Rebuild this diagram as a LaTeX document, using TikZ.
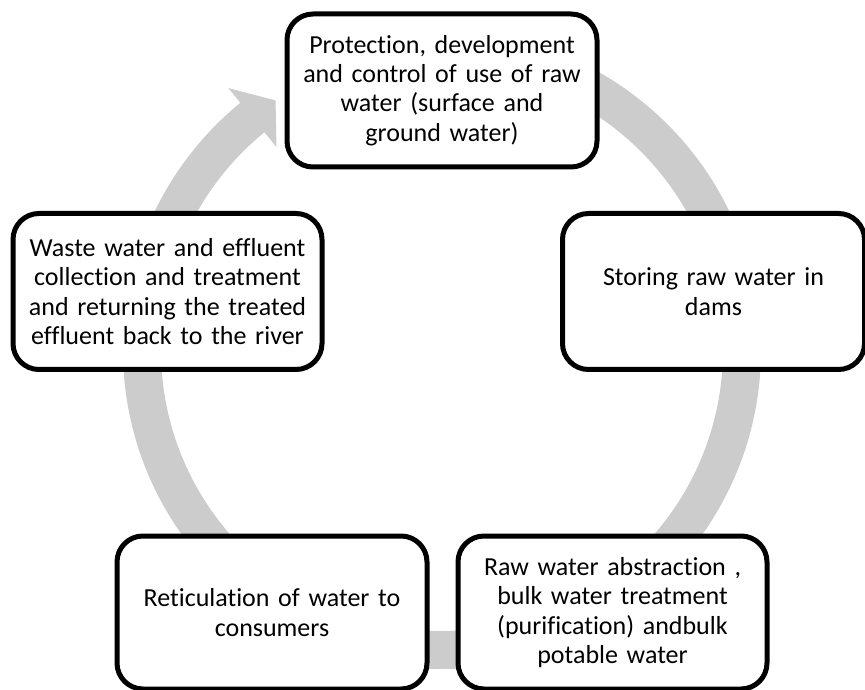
\documentclass[tikz,border=0pt]{standalone}
\usepackage{fontspec}
\setmainfont{Carlito}[Ligatures=NoCommon]
\usetikzlibrary{calc}

\definecolor{ringgray}{RGB}{204,204,204}

\tikzset{
  stagebox/.style={
    draw=black, line width=5pt, rounded corners=26pt, fill=white,
    minimum width=309pt, minimum height=153pt, inner sep=0pt,
    text width=302pt, align=center,
    font=\fontsize{26}{29.4}\selectfont
  }
}

\begin{document}
\begin{tikzpicture}[x=1pt,y=1pt]
  \useasboundingbox (0,0) rectangle (865,689);

  % centre of the circular flow arrow
  \coordinate (c) at (442,339);

  % circular arrow running clockwise, head at the upper left
  \fill[ringgray]
    ($(c)+(90:319pt)$) arc[start angle=90, end angle=-230.8, radius=319pt]
    -- ($(c)+(-230.8:338pt)$)
    -- ($(c)+(-236.3:300pt)$)
    -- ($(c)+(-230.8:262pt)$)
    -- ($(c)+(-230.8:281pt)$)
    arc[start angle=-230.8, end angle=90, radius=281pt]
    -- cycle;

  % the five stages of the cycle
  \node[stagebox, minimum width=310pt] (protect) at (442,598.5)
    {Protection, development\\and control of use of raw\\water (surface and\\ground water)};
  \node[stagebox, minimum width=299pt, minimum height=156pt] (store) at (713.5,397.5)
    {Storing raw water in\\dams};
  \node[stagebox, minimum height=156pt] (waste) at (167.5,397.5)
    {Waste water and effluent\\collection and treatment\\and returning the treated\\effluent back to the river};
  \node[stagebox, minimum width=310pt] (retic) at (272,76.5)
    {Reticulation of water to\\consumers};
  \node[stagebox] (abstract) at (612.5,76.5)
    {Raw water abstraction ,\\bulk water treatment\\(purification) andbulk\\potable water};
\end{tikzpicture}
\end{document}
